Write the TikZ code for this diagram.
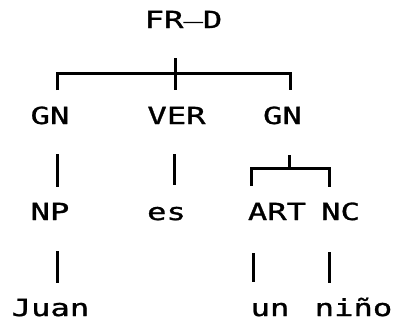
\documentclass[tikz,border=0pt]{standalone}
\usepackage{fontspec}
% wide, heavy monospaced face, like a dot-matrix printout
\newfontfamily\printfont[FakeStretch=1.37,FakeBold=1.2]{DejaVu Sans Mono}
\begin{document}
\begin{tikzpicture}[x=1pt,y=-1pt,
  lbl/.style={font=\printfont\fontsize{23.5}{28}\selectfont, inner sep=0pt, anchor=base},
  link/.style={line width=3pt, line cap=butt, line join=miter}]
\useasboundingbox (0,0) rectangle (399,325);

% labels (placed by baseline)
\node[lbl] (frd)  at (183.5,28)  {FR\raisebox{0.45em}{\_}D};
\node[lbl] (gn1)  at (50,124)    {GN};
\node[lbl] (ver)  at (176.5,124) {VER};
\node[lbl] (gn2)  at (282.5,124) {GN};
\node[lbl] (np)   at (50,220)    {NP};
\node[lbl] (es)   at (166.5,220) {es};
\node[lbl] (art)  at (277,220)   {ART};
\node[lbl] (nc)   at (340.5,220) {NC};
\node[lbl] (juan) at (50.5,316)  {Juan};
\node[lbl] (un)   at (270,316)   {un};
\node[lbl] (nino) at (353.5,316) {niño};

% bracket under FR_D
\coordinate (frdStem) at (175,58);
\coordinate (frdJoin) at (175,90);
\coordinate (frdL)    at (57,73);
\coordinate (frdR)    at (290,73);
\draw[link] (frdStem) -- (frdJoin);
\draw[link] (57,90) -- (frdL) -- (frdR) -- (290,90);

% single branches
\draw[link] (57,154)  -- (57,187);   % GN - NP
\draw[link] (57,251)  -- (57,283);   % NP - Juan
\draw[link] (174,154) -- (174,185);  % VER - es
\draw[link] (253,253) -- (253,282);  % ART - un
\draw[link] (329,252) -- (329,283);  % NC - niño

% bracket under the second GN
\coordinate (gnStem) at (289,155);
\coordinate (gnL)    at (251,168);
\coordinate (gnR)    at (329,168);
\draw[link] (gnStem) -- (289,168);
\draw[link] (251,186) -- (gnL) -- (gnR) -- (329,187);
\end{tikzpicture}
\end{document}
